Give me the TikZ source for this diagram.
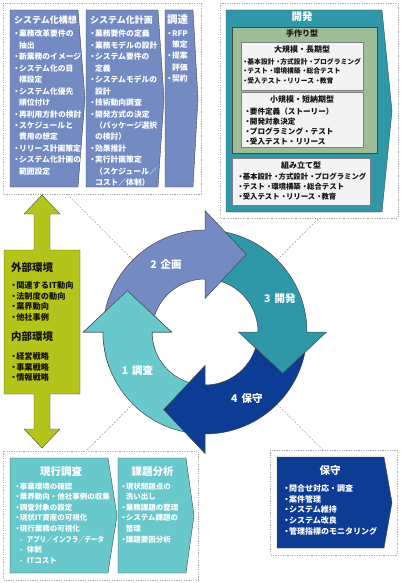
\documentclass[tikz,border=0pt]{standalone}
\usepackage{fontspec}
\setmainfont{Noto Sans CJK JP}
\usetikzlibrary{calc}

\definecolor{planBlue}{RGB}{115,139,194}
\definecolor{devTeal}{RGB}{47,152,168}
\definecolor{surveyCyan}{RGB}{104,200,204}
\definecolor{maintNavy}{RGB}{13,60,148}
\definecolor{envOlive}{RGB}{181,196,26}
\definecolor{handSage}{RGB}{158,189,150}
\definecolor{boxWhite}{RGB}{243,243,243}
\definecolor{lineGray}{RGB}{70,70,70}
\definecolor{frameGray}{RGB}{170,170,170}
\definecolor{inkBlack}{RGB}{20,20,20}

\def \rOut {102}
\def \rIn {53}
\def \rHeadOut {121.5}
\def \rHeadIn {33.5}
\def \rTip {88}

\newcommand{\itemDot}{\makebox[0.62em]{・}}
\newcommand{\itemGap}{\hspace{0.62em}}
\newcommand{\ringArrow}[2]{%
  \filldraw[ring, fill=#2] ({#1}:\rOut) arc[start angle=#1, end angle=#1-90, radius=\rOut]
    -- ({#1-90}:\rHeadOut) -- ({#1-118}:\rTip) -- ({#1-90}:\rHeadIn) -- ({#1-90}:\rIn)
    arc[start angle=#1-90, end angle=#1, radius=\rIn] -- cycle;}

\tikzset{
  panel/.style={draw=frameGray, dash pattern=on 1.2pt off 1.2pt, line width=0.8pt},
  phase/.style={draw=lineGray, line width=0.4pt},
  ring/.style={draw=lineGray, line width=0.5pt},
  link/.style={draw=frameGray, dash pattern=on 2pt off 1.5pt, line width=0.7pt},
  subbox/.style={draw=gray, fill=boxWhite, line width=0.5pt},
  headline/.style={font=\fontsize{10.5}{12}\selectfont\bfseries, text=white, inner sep=0pt},
  bullets/.style={font=\fontsize{7.8}{11.45}\selectfont\bfseries, text=white, align=left, anchor=north west, inner sep=0pt},
  darkhead/.style={font=\fontsize{8}{10}\selectfont\bfseries, text=inkBlack, inner sep=0pt},
  ringLabel/.style={font=\fontsize{10.5}{12}\selectfont\bfseries, text=white, inner sep=0pt}
}

\begin{document}
\begin{tikzpicture}[x=1pt, y=-1pt]
  \useasboundingbox (0,0) rectangle (400,583);

  \draw[panel] (3,3) rectangle (201,194);
  \draw[panel] (220,3) rectangle (398,218);
  \draw[panel] (3,451) rectangle (198,580);
  \draw[panel] (270,450) rectangle (397,555);

  \coordinate (ringC) at (205,332);
  \coordinate (ringPlan) at ($(ringC)+(-72.1,-72.1)$);
  \coordinate (ringDev) at ($(ringC)+(72.1,-72.1)$);
  \coordinate (ringSurvey) at ($(ringC)+(-72.1,72.1)$);
  \coordinate (ringMaint) at ($(ringC)+(72.1,72.1)$);
  \coordinate (planEnd) at (67,194);
  \coordinate (devEnd) at (319,218);
  \coordinate (surveyEnd) at (86,451);
  \coordinate (maintEnd) at (323,450);
  \draw[link] (ringPlan) -- (planEnd);
  \draw[link] (ringDev) -- (devEnd);
  \draw[link] (ringSurvey) -- (surveyEnd);
  \draw[link] (ringMaint) -- (maintEnd);

  \filldraw[phase, fill=planBlue] (10,10) -- (78,10) -- (85,98.5) -- (78,187) -- (10,187) -- cycle;
  \filldraw[phase, fill=planBlue] (86,10) -- (158,10) -- (164,98.5) -- (158,187) -- (86,187) -- cycle;
  \filldraw[phase, fill=planBlue] (165,10) -- (193,10) -- (198,98.5) -- (193,187) -- (165,187) -- cycle;
  \node[headline, font=\fontsize{9}{11}\selectfont\bfseries, anchor=west] (visionTitle) at (14,20) {システム化構想};
  \node[bullets] (visionList) at (14,30) {\itemDot 業務改革要件の\\\itemGap 抽出\\\itemDot 新業務のイメージ\\\itemDot システム化の目\\\itemGap 標設定\\\itemDot システム化優先\\\itemGap 順位付け\\\itemDot 再利用方針の検討\\\itemDot スケジュールと\\\itemGap 費用の想定\\\itemDot リリース計画策定\\\itemDot システム化計画の\\\itemGap 範囲設定};
  \node[headline, font=\fontsize{9}{11}\selectfont\bfseries, anchor=west] (planTitle) at (90,20) {システム化計画};
  \node[bullets] (planList) at (90,30) {\itemDot 業務要件の定義\\\itemDot 業務モデルの設計\\\itemDot システム要件の\\\itemGap 定義\\\itemDot システムモデルの\\\itemGap 設計\\\itemDot 技術動向調査\\\itemDot 開発方式の決定\\\itemGap （パッケージ選択\\\itemGap の検討）\\\itemDot 効果推計\\\itemDot 実行計画策定\\\itemGap （スケジュール／\\\itemGap コスト／体制）};
  \node[headline, anchor=west] (procTitle) at (167,20) {調達};
  \node[bullets] (procList) at (167,30) {\itemDot RFP\\\itemGap 策定\\\itemDot 提案\\\itemGap 評価\\\itemDot 契約};

  \filldraw[phase, fill=devTeal] (226,10) -- (382,10) -- (392,111) -- (382,212) -- (226,212) -- cycle;
  \node[headline] (devTitle) at (302,17) {開発};
  \filldraw[phase, fill=handSage] (232,27) rectangle (377,153);
  \node[darkhead] (handTitle) at (302,33) {手作り型};
  \filldraw[subbox] (241,42) rectangle (363,90);
  \node[darkhead] (largeTitle) at (302,49) {大規模・長期型};
  \node[bullets, text=inkBlack, font=\fontsize{6.8}{9.7}\selectfont\bfseries] (largeList) at (243,58) {\itemDot 基本設計\ \itemDot 方式設計\ \itemDot プログラミング\\\itemDot テスト\ \itemDot 環境構築\ \itemDot 総合テスト\\\itemDot 受入テスト\ \itemDot リリース\ \itemDot 教育};
  \filldraw[subbox] (241,92) rectangle (363,147);
  \node[darkhead] (smallTitle) at (302,99) {小規模・短納期型};
  \node[bullets, text=inkBlack, font=\fontsize{7.6}{10}\selectfont\bfseries] (smallList) at (245,107.5) {\itemDot 要件定義（ストーリー）\\\itemDot 開発対象決定\\\itemDot プログラミング・テスト\\\itemDot 受入テスト・リリース};
  \filldraw[subbox] (232,158) rectangle (370,205);
  \node[darkhead] (assemblyTitle) at (301,165) {組み立て型};
  \node[bullets, text=inkBlack, font=\fontsize{7.4}{10}\selectfont\bfseries] (assemblyList) at (238,172.6) {\itemDot 基本設計\ \itemDot 方式設計\ \itemDot プログラミング\\\itemDot テスト\ \itemDot 環境構築\ \itemDot 総合テスト\\\itemDot 受入テスト\ \itemDot リリース\ \itemDot 教育};

  \filldraw[phase, fill=envOlive] (42,195) -- (60,214) -- (50,214) -- (50,250) -- (80,250) -- (80,394) -- (50,394) -- (50,429) -- (60,429) -- (42,448) -- (24,429) -- (34,429) -- (34,394) -- (4,394) -- (4,250) -- (34,250) -- (34,214) -- (24,214) -- cycle;
  \node[headline, text=inkBlack, font=\fontsize{10.5}{12}\selectfont\bfseries, anchor=west] (extTitle) at (11,268) {外部環境};
  \node[bullets, text=inkBlack, font=\fontsize{8.2}{10.6}\selectfont\bfseries] (extList) at (11,281.3) {\itemDot 関連するIT動向\\\itemDot 法制度の動向\\\itemDot 業界動向\\\itemDot 他社事例};
  \node[headline, text=inkBlack, font=\fontsize{10.5}{12}\selectfont\bfseries, anchor=west] (intTitle) at (11,337) {内部環境};
  \node[bullets, text=inkBlack, font=\fontsize{8.2}{10.6}\selectfont\bfseries] (intList) at (11,352.3) {\itemDot 経営戦略\\\itemDot 事業戦略\\\itemDot 情報戦略};

  \begin{scope}[shift={(205,332)}, yscale=-1]
    \ringArrow{270}{surveyCyan}
    \ringArrow{360}{maintNavy}
    \ringArrow{90}{devTeal}
    \ringArrow{180}{planBlue}
    \begin{scope}
      \clip (0,0) -- (140:150) arc[start angle=140, end angle=200, radius=150] -- cycle;
      \ringArrow{270}{surveyCyan}
    \end{scope}
    \node[ringLabel] (surveyLabel) at (210:78) {1\hspace{4pt}調査};
    \node[ringLabel] (planLabel) at (120:78) {2\hspace{4pt}企画};
    \node[ringLabel] (devLabel) at (24:82) {3\hspace{4pt}開発};
    \node[ringLabel] (maintLabel) at (302:79) {4\hspace{4pt}保守};
  \end{scope}

  \filldraw[phase, fill=surveyCyan] (10,458) -- (108,458) -- (117,515.5) -- (108,573) -- (10,573) -- cycle;
  \filldraw[phase, fill=surveyCyan] (118,458) -- (186,458) -- (194,515.5) -- (186,573) -- (118,573) -- cycle;
  \node[headline] (currentTitle) at (61,472) {現行調査};
  \node[bullets, font=\fontsize{7.5}{10.6}\selectfont\bfseries] (currentList) at (15,482.5) {\itemDot 事業環境の確認\\\itemDot 業界動向・他社事例の収集\\\itemDot 調査対象の設定\\\itemDot 現状IT資産の可視化\\\itemDot 現行業務の可視化\\\itemGap\makebox[7pt][l]{-}\scalebox{0.86}[1]{アプリ／インフラ／データ}\\\itemGap\makebox[7pt][l]{-}体制\\\itemGap\makebox[7pt][l]{-}ITコスト};
  \node[headline] (issueTitle) at (152.5,472) {課題分析};
  \node[bullets, font=\fontsize{7.5}{10.6}\selectfont\bfseries] (issueList) at (121,482.5) {\itemDot 現状問題点の\\\itemGap 洗い出し\\\itemDot 業務課題の整理\\\itemDot システム課題の\\\itemGap 整理\\\itemDot 課題要因分析};

  \filldraw[phase, fill=maintNavy] (277,457) -- (384,457) -- (392,502.5) -- (384,548) -- (277,548) -- cycle;
  \node[headline] (maintTitle) at (330,471) {保守};
  \node[bullets, font=\fontsize{8}{10.7}\selectfont\bfseries] (maintList) at (284,484.3) {\itemDot 問合せ対応・調査\\\itemDot 案件管理\\\itemDot システム維持\\\itemDot システム改良\\\itemDot 管理指標のモニタリング};
\end{tikzpicture}
\end{document}
